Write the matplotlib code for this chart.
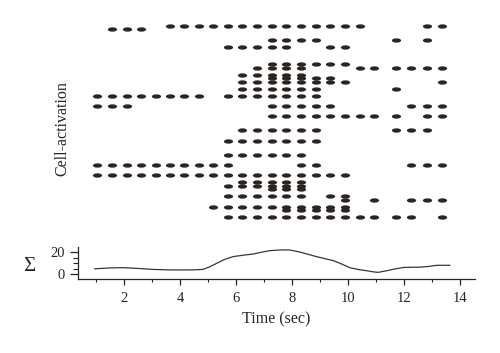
import matplotlib
matplotlib.use("Agg")
import matplotlib.pyplot as plt
from matplotlib.path import Path
from matplotlib.transforms import Affine2D
from matplotlib.ticker import MultipleLocator

plt.rcParams["font.family"] = ["Liberation Serif", "DejaVu Serif"]

# spike columns (sec)
col_times = [1.05, 1.57, 2.10, 2.62, 3.14, 3.66, 4.16, 4.68, 5.18, 5.70, 6.21, 6.74,
             7.28, 7.80, 8.32, 8.85, 9.37, 9.89, 10.42, 10.95, 11.71, 12.25, 12.82, 13.36]

# cell index (top = 0) and which columns fire ("o")
row_ids = [0, 1, 4, 6, 11, 12, 14, 15, 16, 18, 20, 23, 26, 30, 33, 37,
           40, 43, 45, 46, 47, 49, 50, 52, 53, 55]
row_patterns = [
    ".....oooooooooooooo...oo",
    ".ooo....................",
    "............oooo....o.o.",
    ".........ooooo..oo......",
    "............oooooo......",
    "...........oooo...oooooo",
    "..........ooooo.........",
    "............ooooo.......",
    "..........oooooooo.....o",
    "..........oooooo....o...",
    "oooooooo.ooooooo........",
    "ooo.........ooooo....ooo",
    "............ooooooooo.oo",
    "..........oooooo....ooo.",
    ".........ooooooo........",
    ".........oooooo.........",
    "oooooooooo....oo.....ooo",
    "oooooooooooooooooo......",
    "..........ooooo.........",
    ".........oooooo.........",
    "............ooo.........",
    ".........oooooo.oo......",
    ".................o.o.ooo",
    "........oooooooooo......",
    ".............ooooo......",
    ".........ooooooooooooo.o",
]

# summed activity trace
sum_t = [0.96, 1.5, 1.98, 2.45, 3.05, 3.6, 4.0, 4.5, 4.83, 5.05, 5.31, 5.6, 5.9, 6.25,
         6.62, 6.9, 7.21, 7.6, 7.93, 8.29, 8.6, 8.88, 9.2, 9.48, 9.75, 10.07, 10.4,
         10.67, 10.9, 11.08, 11.35, 11.62, 11.98, 12.3, 12.57, 12.9, 13.17, 13.64]
sum_v = [4.8, 5.6, 5.8, 5.2, 4.2, 3.8, 3.7, 3.8, 4.3, 6.5, 9.8, 13.5, 16.0, 17.3,
         18.4, 20.0, 21.5, 22.2, 22.1, 20.2, 18.0, 16.0, 14.0, 12.3, 9.5, 5.8, 4.0,
         3.0, 2.0, 1.5, 2.8, 4.3, 6.0, 6.2, 6.3, 7.0, 8.0, 8.0]

INK = "#2b2421"

fig = plt.figure(figsize=(5.0, 3.53), dpi=100)

ax = fig.add_axes([0.1566, 0.3748, 0.7934, 0.5615])
xs, ys = [], []
for r, pat in zip(row_ids, row_patterns):
    for c, ch in enumerate(pat):
        if ch == "o":
            xs.append(col_times[c])
            ys.append(r)
ellipse = Path.unit_circle().transformed(Affine2D().scale(1.0, 0.47))
ax.scatter(xs, ys, s=44, marker=ellipse, color=INK, linewidths=0)
ax.set_xlim(0.37, 14.54)
ax.set_ylim(56, -1)
ax.axis("off")

bx = fig.add_axes([0.1566, 0.2088, 0.7934, 0.0906])
bx.plot(sum_t, sum_v, color="#3a3532", lw=0.9)
bx.set_xlim(0.37, 14.54)
bx.set_ylim(-4.9, 24.6)
for s in ("top", "right"):
    bx.spines[s].set_visible(False)
for s in ("left", "bottom"):
    bx.spines[s].set_linewidth(0.9)
    bx.spines[s].set_color(INK)
bx.set_xticks([2, 4, 6, 8, 10, 12, 14])
bx.xaxis.set_minor_locator(MultipleLocator(1))
bx.set_yticks([0, 20])
bx.yaxis.set_minor_locator(MultipleLocator(5))
bx.tick_params(axis="x", which="major", length=4, width=0.9, labelsize=10.5, pad=5, colors=INK)
bx.tick_params(axis="x", which="minor", length=2.5, width=0.8, colors=INK)
bx.tick_params(axis="y", which="major", length=5.5, width=0.9, labelsize=10.5, pad=4, colors=INK)
bx.tick_params(axis="y", which="minor", length=3.5, width=0.8, colors=INK)
bx.set_xlabel("Time (sec)", fontsize=11.5, labelpad=5, color=INK)

fig.text(0.058, 0.244, "Σ", fontsize=15, ha="center", va="center", color=INK)
fig.text(0.124, 0.635, "Cell-activation", fontsize=11.5, rotation=90, ha="center", va="center",
         color=INK)

fig.savefig("out.png", dpi=100)
